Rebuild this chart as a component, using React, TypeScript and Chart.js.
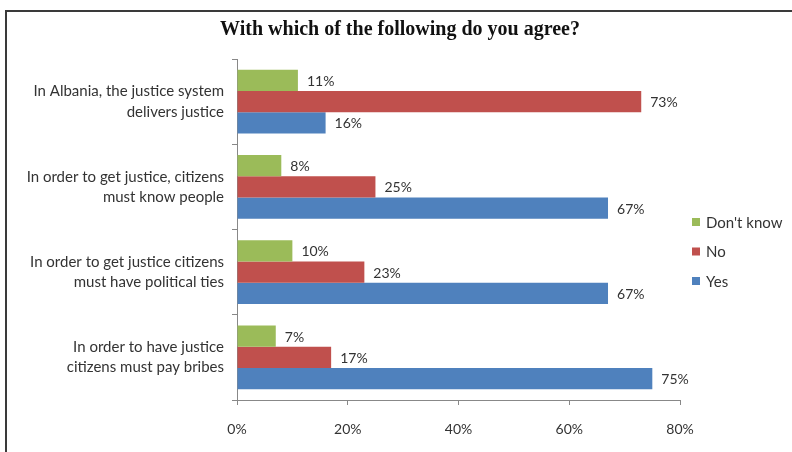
import React, { useEffect, useRef } from "react";
import { Chart, registerables } from "chart.js";

Chart.register(...registerables);

const titleText = "With which of the following do you agree?";
const categories: string[][] = [
  ["In Albania, the justice system", "delivers justice"],
  ["In order to get justice, citizens", "must know people"],
  ["In order to get justice citizens", "must have political ties"],
  ["In order to have justice", "citizens must pay bribes"],
];
const seriesNames = ["Don't know", "No", "Yes"];
const dontKnowValues = [11, 8, 10, 7];
const noValues = [73, 25, 23, 17];
const yesValues = [16, 67, 67, 75];
const xTickValues = [0, 20, 40, 60, 80];
const seriesColors = ["#9BBB59", "#C0504D", "#4F81BD"];

const FONT = "Lato, 'Open Sans', sans-serif";
const TEXT_COLOR = "#333333";

const titlePlugin = {
  id: "centeredTitle",
  afterDraw(chart: any) {
    const ctx = chart.ctx;
    ctx.save();
    ctx.font = "bold 20px 'Liberation Serif', 'Times New Roman', serif";
    ctx.fillStyle = "#111111";
    ctx.textAlign = "center";
    ctx.textBaseline = "middle";
    ctx.fillText(titleText, 400, 30);
    ctx.restore();
  },
};

const dataLabelPlugin = {
  id: "dataLabels",
  afterDatasetsDraw(chart: any) {
    const ctx = chart.ctx;
    ctx.save();
    ctx.font = `14px ${FONT}`;
    ctx.fillStyle = TEXT_COLOR;
    ctx.textAlign = "left";
    ctx.textBaseline = "middle";
    chart.data.datasets.forEach((ds: any, i: number) => {
      const meta = chart.getDatasetMeta(i);
      meta.data.forEach((el: any, j: number) => {
        ctx.fillText(`${ds.data[j]}%`, el.x + 9, el.y + 1);
      });
    });
    ctx.restore();
  },
};

const legendPlugin = {
  id: "sideLegend",
  afterDraw(chart: any) {
    const ctx = chart.ctx;
    ctx.save();
    ctx.font = `15px ${FONT}`;
    ctx.textAlign = "left";
    ctx.textBaseline = "middle";
    const x0 = 692;
    const y0 = 222;
    const step = 29.5;
    chart.data.datasets.forEach((ds: any, i: number) => {
      const cy = y0 + i * step;
      ctx.fillStyle = ds.backgroundColor;
      ctx.fillRect(x0, cy - 4, 8, 8);
      ctx.fillStyle = TEXT_COLOR;
      ctx.fillText(ds.label, x0 + 14, cy + 1);
    });
    ctx.restore();
  },
};

export default function App() {
  const ref = useRef<HTMLCanvasElement | null>(null);

  useEffect(() => {
    if (!ref.current) return;
    const valueSets = [dontKnowValues, noValues, yesValues];
    const chart = new Chart(ref.current, {
      type: "bar",
      data: {
        labels: categories,
        datasets: seriesNames.map((name, i) => ({
          label: name,
          data: valueSets[i],
          backgroundColor: seriesColors[i],
          borderWidth: 0,
          categoryPercentage: 0.75,
          barPercentage: 1.0,
        })),
      },
      options: {
        indexAxis: "y",
        responsive: false,
        animation: false,
        layout: { padding: { left: 10, right: 112, top: 59, bottom: 10 } },
        plugins: {
          legend: { display: false },
          tooltip: { enabled: false },
          title: { display: false },
        },
        scales: {
          x: {
            min: 0,
            max: 80,
            afterBuildTicks: (scale: any) => {
              scale.ticks = xTickValues.map((v) => ({ value: v }));
            },
            afterFit: (scale: any) => {
              scale.height = 42;
            },
            ticks: {
              callback: (v: any) => `${v}%`,
              color: TEXT_COLOR,
              font: { family: FONT, size: 14 },
              padding: 16,
              maxRotation: 0,
            },
            grid: {
              drawOnChartArea: false,
              drawTicks: true,
              tickLength: 5,
              color: "#888888",
            },
            border: { color: "#888888" },
          },
          y: {
            afterFit: (scale: any) => {
              scale.width = 227;
            },
            ticks: {
              color: TEXT_COLOR,
              font: { family: FONT, size: 15, lineHeight: 1.35 },
              padding: 8,
            },
            grid: {
              drawOnChartArea: false,
              drawTicks: true,
              tickLength: 5,
              color: "#888888",
              offset: true,
            },
            border: { color: "#888888" },
          },
        },
      },
      plugins: [dataLabelPlugin, legendPlugin, titlePlugin],
    } as any);
    return () => chart.destroy();
  }, []);

  return (
    <div
      style={{
        position: "fixed",
        left: 0,
        top: 0,
        width: 792,
        height: 452,
        overflow: "hidden",
        background: "#ffffff",
      }}
    >
      <canvas
        ref={ref}
        width={792}
        height={452}
        style={{ position: "absolute", left: 0, top: 0, width: 792, height: 452 }}
      />
      <div
        style={{
          position: "absolute",
          left: 5,
          top: 10,
          width: 900,
          height: 600,
          borderTop: "2px solid #3a3a3a",
          borderLeft: "2px solid #3a3a3a",
          pointerEvents: "none",
        }}
      />
    </div>
  );
}
